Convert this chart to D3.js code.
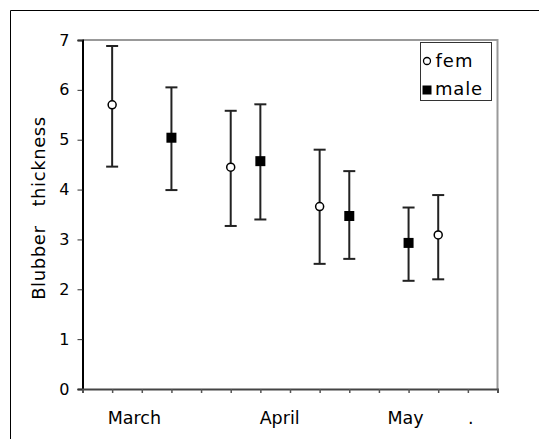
<!DOCTYPE html>
<html>
<head>
<meta charset="utf-8">
<title>Blubber thickness</title>
<style>
  body { margin: 0; background: #fff; }
  text { font-family: "DejaVu Sans", Verdana, sans-serif; fill: #000; }
</style>
</head>
<body>
<script src="https://cdn.jsdelivr.net/npm/d3@7"></script>
<script>
// series: x position (tick index), mean, upper, lower
var femX = [1, 5, 8, 12];
var femMean = [5.70, 4.45, 3.66, 3.09];
var femHigh = [6.88, 5.58, 4.80, 3.89];
var femLow = [4.46, 3.27, 2.51, 2.20];

var maleX = [3, 6, 9, 11];
var maleMean = [5.04, 4.57, 3.47, 2.93];
var maleHigh = [6.05, 5.71, 4.37, 3.64];
var maleLow = [3.99, 3.40, 2.61, 2.17];

var yTicks = [0, 1, 2, 3, 4, 5, 6, 7];
var monthLabels = ["March", "April", "May", "."];
var monthPos = [1.75, 6.65, 10.9, 13.1];

var width = 539, height = 439;
var plot = { left: 82.5, right: 497.5, top: 40, bottom: 389 };

var svg = d3.select("body").append("svg")
  .attr("width", width)
  .attr("height", height);

// outer frame (cut off at right and bottom)
svg.append("path")
  .attr("d", "M10.5," + height + "V10.5H" + width)
  .attr("fill", "none")
  .attr("stroke", "#000")
  .attr("stroke-width", 1);

var x = d3.scaleLinear().domain([0, 14]).range([plot.left, plot.right]);
var y = d3.scaleLinear().domain([0, 7]).range([plot.bottom, plot.top]);

// gray plot border, top and right
svg.append("path")
  .attr("d", "M" + plot.left + "," + plot.top + "H" + plot.right + "V" + plot.bottom)
  .attr("fill", "none")
  .attr("stroke", "#999")
  .attr("stroke-width", 2);

// y axis
var yAxis = svg.append("g")
  .attr("transform", "translate(" + plot.left + ",0)")
  .call(d3.axisLeft(y).tickValues(yTicks).tickSize(5).tickPadding(8).tickFormat(d3.format("d")));
yAxis.select(".domain").attr("stroke", "#000").attr("stroke-width", 2);
yAxis.selectAll(".tick line").attr("stroke", "#333");
yAxis.selectAll("text").attr("font-size", 16).attr("font-family", "DejaVu Sans");

// x axis: ticks only
var xAxis = svg.append("g")
  .attr("transform", "translate(0," + plot.bottom + ")")
  .call(d3.axisBottom(x).ticks(14).tickSize(4).tickFormat(""));
xAxis.select(".domain").attr("stroke", "#444").attr("stroke-width", 2);
xAxis.selectAll(".tick line").attr("stroke", "#555").attr("stroke-width", 1.5);

svg.selectAll(".month").data(monthLabels).enter().append("text")
  .attr("class", "month")
  .attr("x", function(d, i) { return x(monthPos[i]); })
  .attr("y", 424)
  .attr("text-anchor", "middle")
  .attr("font-size", 17.5)
  .text(function(d) { return d; });

// y title
svg.append("text")
  .attr("transform", "translate(45,208) rotate(-90)")
  .attr("text-anchor", "middle")
  .attr("font-size", 18)
  .attr("letter-spacing", 0.6)
  .style("white-space", "pre")
  .text("Blubber   thickness");

function bars(xs, hi, lo) {
  var g = svg.append("g").attr("stroke", "#222").attr("stroke-width", 2);
  xs.forEach(function(xv, i) {
    g.append("line").attr("x1", x(xv)).attr("x2", x(xv)).attr("y1", y(hi[i])).attr("y2", y(lo[i]));
    g.append("line").attr("x1", x(xv) - 6).attr("x2", x(xv) + 6).attr("y1", y(hi[i])).attr("y2", y(hi[i]));
    g.append("line").attr("x1", x(xv) - 6).attr("x2", x(xv) + 6).attr("y1", y(lo[i])).attr("y2", y(lo[i]));
  });
}
bars(femX, femHigh, femLow);
bars(maleX, maleHigh, maleLow);

svg.selectAll(".fem").data(femX).enter().append("circle")
  .attr("class", "fem")
  .attr("cx", function(d) { return x(d); })
  .attr("cy", function(d, i) { return y(femMean[i]); })
  .attr("r", 4)
  .attr("fill", "#fff")
  .attr("stroke", "#000")
  .attr("stroke-width", 1.5);

svg.selectAll(".male").data(maleX).enter().append("rect")
  .attr("class", "male")
  .attr("x", function(d) { return x(d) - 5; })
  .attr("y", function(d, i) { return y(maleMean[i]) - 5; })
  .attr("width", 10)
  .attr("height", 10)
  .attr("fill", "#000");

// legend
var leg = svg.append("g");
leg.append("rect")
  .attr("x", 420.5).attr("y", 42.5)
  .attr("width", 71).attr("height", 58)
  .attr("fill", "#fff")
  .attr("stroke", "#333");
leg.append("circle").attr("cx", 427).attr("cy", 61).attr("r", 3.5)
  .attr("fill", "#fff").attr("stroke", "#000").attr("stroke-width", 1.3);
leg.append("text").attr("x", 435.5).attr("y", 67).attr("font-size", 18).attr("letter-spacing", 1).text("fem");
leg.append("rect").attr("x", 422.5).attr("y", 85.5).attr("width", 9).attr("height", 9).attr("fill", "#000");
leg.append("text").attr("x", 435).attr("y", 95).attr("font-size", 18).attr("letter-spacing", 0.8).text("male");
</script>
</body>
</html>
